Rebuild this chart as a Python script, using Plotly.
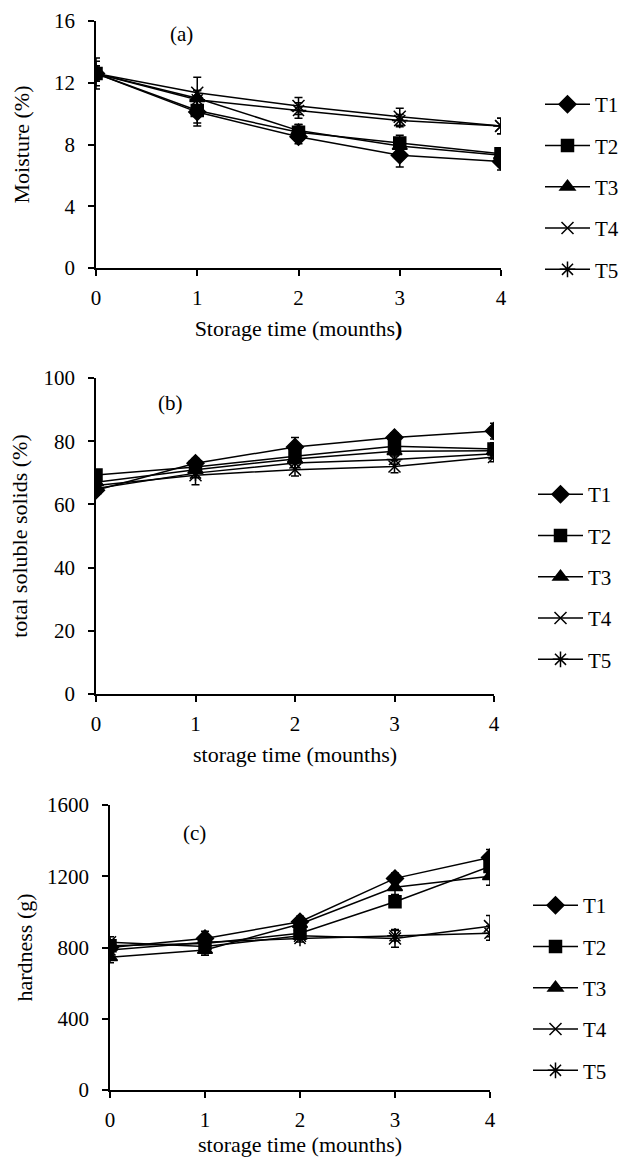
import plotly.graph_objects as go

months = [0, 1, 2, 3, 4]
series_names = ["T1", "T2", "T3", "T4", "T5"]

# (a) Moisture (%)
moist_T1 = [12.6, 10.1, 8.5, 7.3, 6.9]
moist_T2 = [12.6, 10.2, 8.8, 8.1, 7.4]
moist_T3 = [12.6, 11.0, 8.9, 7.9, 7.3]
moist_T4 = [12.6, 11.35, 10.5, 9.8, 9.2]
moist_T5 = [12.6, 10.9, 10.2, 9.55, 9.2]
moist_err_T1 = [0.8, 0.9, 0.45, 0.75, 0.55]
moist_err_T2 = [1.0, 0.8, 0.5, 0.5, 0.3]
moist_err_T3 = [0.5, 0.5, 0.4, 0.3, 0.3]
moist_err_T4 = [0.5, 1.0, 0.55, 0.55, 0.5]
moist_err_T5 = [0.5, 0.6, 0.5, 0.4, 0.5]

# (b) total soluble solids (%)
tss_T1 = [64.5, 73.0, 78.2, 81.2, 83.2]
tss_T2 = [69.3, 71.8, 75.2, 78.4, 77.5]
tss_T3 = [67.0, 71.0, 74.4, 76.8, 77.0]
tss_T4 = [66.0, 69.2, 71.0, 72.0, 75.0]
tss_T5 = [65.0, 69.9, 73.1, 74.2, 76.0]
tss_err_T1 = [1.5, 1.5, 3.0, 1.5, 2.5]
tss_err_T2 = [1.5, 1.5, 2.0, 2.0, 2.0]
tss_err_T3 = [1.0, 1.0, 1.5, 1.5, 1.5]
tss_err_T4 = [1.5, 3.0, 2.0, 2.0, 1.5]
tss_err_T5 = [1.0, 1.5, 1.5, 1.5, 1.5]

# (c) hardness (g)
hard_T1 = [800, 851, 945, 1188, 1305]
hard_T2 = [810, 823, 880, 1057, 1255]
hard_T3 = [745, 786, 932, 1138, 1200]
hard_T4 = [830, 805, 866, 851, 920]
hard_T5 = [786, 830, 851, 866, 880]
hard_err_T1 = [30, 40, 30, 30, 45]
hard_err_T2 = [30, 40, 30, 30, 40]
hard_err_T3 = [30, 30, 30, 40, 50]
hard_err_T4 = [30, 40, 20, 50, 60]
hard_err_T5 = [30, 30, 20, 30, 40]

x_ticks = [0, 1, 2, 3, 4]
moist_ticks = [0, 4, 8, 12, 16]
tss_ticks = [0, 20, 40, 60, 80, 100]
hard_ticks = [0, 400, 800, 1200, 1600]

symbols = ["diamond", "square", "triangle-up", "x-thin-open", "asterisk-open"]
sizes = [13, 12, 13, 12, 13]

FONT = "Liberation Serif, Times New Roman, serif"
W, H = 620, 1157

fig = go.Figure()

panels = [
    ([moist_T1, moist_T2, moist_T3, moist_T4, moist_T5],
     [moist_err_T1, moist_err_T2, moist_err_T3, moist_err_T4, moist_err_T5], "", "legend"),
    ([tss_T1, tss_T2, tss_T3, tss_T4, tss_T5],
     [tss_err_T1, tss_err_T2, tss_err_T3, tss_err_T4, tss_err_T5], "2", "legend2"),
    ([hard_T1, hard_T2, hard_T3, hard_T4, hard_T5],
     [hard_err_T1, hard_err_T2, hard_err_T3, hard_err_T4, hard_err_T5], "3", "legend3"),
]

for vals, errs, ax, leg in panels:
    for i, name in enumerate(series_names):
        fig.add_trace(go.Scatter(
            x=months, y=vals[i], name=name, mode="lines+markers",
            xaxis="x" + ax, yaxis="y" + ax, legend=leg,
            legendgroup=leg + name,
            line=dict(color="black", width=1.5),
            marker=dict(symbol=symbols[i], size=sizes[i], color="black",
                        line=dict(color="black", width=1.5)),
            error_y=dict(type="data", array=errs[i], color="black",
                         thickness=1.5, width=4),
        ))

def px_x(p):
    return p / W

def px_y(p):
    return 1 - p / H

axis_common = dict(showline=True, linecolor="black", linewidth=1.5,
                   ticks="outside", ticklen=6, tickwidth=1.5, tickcolor="black",
                   showgrid=False, zeroline=False, mirror=False, automargin=False,
                   tickfont=dict(family=FONT, size=21, color="black"))

domains = [
    ((96, 501), (21, 268), [0, 16], moist_ticks, "Moisture (%)",
     "Storage time (mounths<b>)</b>", 18),
    ((96, 494), (378, 694), [0, 100], tss_ticks, "total soluble solids (%)",
     "storage time (mounths)", 10),
    ((110, 490), (805, 1090), [0, 1600], hard_ticks, "hardness (g)",
     "storage time (mounths)", 8),
]

layout = dict(
    width=W, height=H, margin=dict(l=0, r=0, t=0, b=0, autoexpand=False),
    paper_bgcolor="white", plot_bgcolor="white",
    font=dict(family=FONT, size=21, color="black"),
)

for k, ((x0, x1), (y0, y1), yr, yt, ytitle, xtitle, ystand) in enumerate(domains):
    sfx = "" if k == 0 else str(k + 1)
    layout["xaxis" + sfx] = dict(
        domain=[px_x(x0), px_x(x1)], range=[0, 4], tickvals=x_ticks,
        anchor="y" + sfx, ticklabelstandoff=4,
        title=dict(text=xtitle, font=dict(family=FONT, size=22), standoff=12),
        **axis_common)
    layout["yaxis" + sfx] = dict(
        domain=[px_y(y1), px_y(y0)], range=yr, tickvals=yt,
        anchor="x" + sfx, ticklabelstandoff=9,
        title=dict(text=ytitle, font=dict(family=FONT, size=22), standoff=ystand),
        **axis_common)

legend_common = dict(
    font=dict(family=FONT, size=21, color="black"),
    bgcolor="rgba(0,0,0,0)", borderwidth=0,
    traceorder="grouped", tracegroupgap=11, itemwidth=45,
    xanchor="left", yanchor="top",
)
layout["legend"] = dict(x=px_x(540), y=px_y(84), **legend_common)
layout["legend2"] = dict(x=px_x(533), y=px_y(474), **legend_common)
layout["legend3"] = dict(x=px_x(528), y=px_y(885), **legend_common)

fig.update_layout(**layout)

labels = [("(a)", 182, 34), ("(b)", 170, 403), ("(c)", 194, 833)]
for t, xp, yp in labels:
    fig.add_annotation(text=t, x=px_x(xp), y=px_y(yp), xref="paper", yref="paper",
                       xanchor="center", yanchor="middle",
                       showarrow=False, font=dict(family=FONT, size=21, color="black"))

fig.write_html("out.html",
               config={"displayModeBar": False},
               post_script="document.body.style.margin='0';document.body.style.overflow='hidden';")
